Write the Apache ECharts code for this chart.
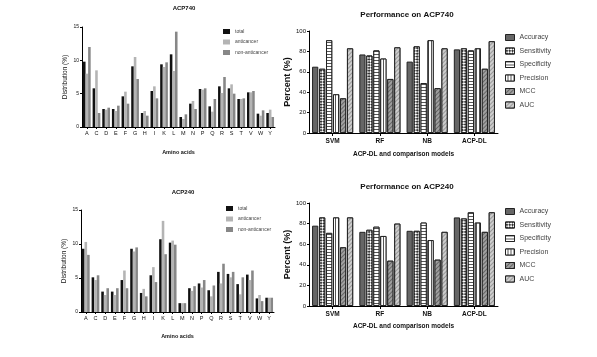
<!DOCTYPE html>
<html><head><meta charset="utf-8">
<script src="https://cdn.jsdelivr.net/npm/echarts@6/dist/echarts.min.js"></script>
<style>html,body{margin:0;padding:0;background:#fff}#c{width:597px;height:357px}</style>
</head><body><div id="c"></div>
<script>
const aminoAcids = ['A','C','D','E','F','G','H','I','K','L','M','N','P','Q','R','S','T','V','W','Y'];
const total740 = [9.8,5.8,2.7,2.7,4.6,9.1,2.1,5.4,9.4,10.9,1.5,3.5,5.7,3.1,6.1,5.8,4.2,5.2,2.0,2.1];
const anti740  = [8.0,8.5,2.6,2.4,5.3,10.5,2.4,6.1,9.0,8.4,1.2,3.9,5.6,2.3,5.1,6.4,4.2,5.2,1.7,2.6];
const non740   = [12.0,2.1,2.9,3.2,3.5,7.2,1.7,4.3,9.7,14.3,1.9,2.7,5.8,4.2,7.5,5.0,4.3,5.4,2.5,1.5];
const total240 = [9.3,5.1,3.0,3.0,4.7,9.3,2.8,5.4,10.7,10.2,1.3,3.5,4.2,3.2,5.9,5.6,4.1,5.5,2.0,2.1];
const anti240  = [10.3,4.7,2.5,2.5,6.1,8.9,3.4,6.6,13.4,10.5,1.3,3.1,3.6,2.3,4.2,5.1,2.6,4.7,2.5,2.1];
const non240   = [8.4,5.4,3.5,3.5,3.5,9.5,2.3,4.4,8.5,9.9,1.3,3.8,4.7,3.9,7.1,5.9,5.1,6.1,1.6,2.1];
const distTicks = [0,5,10,15];

const models = ['SVM','RF','NB','ACP-DL'];
const metrics = ['Accuracy','Sensitivity','Specificity','Precision','MCC','AUC'];
const accuracy740    = [65,77,70,82];
const sensitivity740 = [63,76,85,83];
const specificity740 = [91,81,49,81];
const precision740   = [38,73,91,83];
const mcc740         = [34,53,44,63];
const auc740         = [83,84,83,90];
const accuracy240    = [78,72,73,86];
const sensitivity240 = [86,74,73,85];
const specificity240 = [71,77,81,91];
const precision240   = [86,68,64,81];
const mcc240         = [57,44,45,72];
const auc240         = [86,80,72,91];
const pctTicks = [0,20,40,60,80,100];

const FONT = '"Liberation Sans", Arial, sans-serif';
const chart = echarts.init(document.getElementById('c'));

const distColors = ['#111111','#b4b4b4','#878787'];
const distNames = ['total','anticancer','non-anticancer'];

const metricStyles = [
  {color:'#666666'},
  {color:'#ffffff', decal:{symbol:'rect',symbolSize:1,dashArrayX:[[2,2],[0,2,2,0]],dashArrayY:[2,0],rotation:Math.PI/4,color:'#333',backgroundColor:'#fff'}},
  {color:'#ffffff', decal:{symbol:'rect',symbolSize:1,dashArrayX:[1,0],dashArrayY:[1,2],rotation:0,color:'#555',backgroundColor:'#fff'}},
  {color:'#ffffff', decal:{symbol:'rect',symbolSize:1,dashArrayX:[1,0],dashArrayY:[1,2],rotation:Math.PI/2,color:'#555',backgroundColor:'#fff'}},
  {color:'#8a8a8a', decal:{symbol:'rect',symbolSize:1,dashArrayX:[1,0],dashArrayY:[1,1.5],rotation:-Math.PI/4,color:'#666',backgroundColor:'#a0a0a0'}},
  {color:'#b8b8b8', decal:{symbol:'rect',symbolSize:1,dashArrayX:[1,0],dashArrayY:[1,1.5],rotation:-Math.PI/4,color:'#999',backgroundColor:'#cdcdcd'}}
];

const grids = [
  {left:82, top:27, width:193, height:100},
  {left:81, top:210, width:193, height:102},
  {left:309, top:31, width:189, height:102},
  {left:309, top:203, width:189, height:103}
];

const axisLineStyle = {show:true, lineStyle:{color:'#000', width:1}};

function distX(i, gap){
  return {type:'category', gridIndex:i, data:aminoAcids, name:'Amino acids', nameLocation:'middle', nameGap:gap,
    nameTextStyle:{fontFamily:FONT,fontSize:5.5,fontWeight:'bold',color:'#111'},
    axisLine:axisLineStyle, axisTick:{show:true, alignWithLabel:true, length:2, lineStyle:{color:'#000'}},
    axisLabel:{interval:0, fontFamily:FONT, fontSize:5.5, color:'#111', margin:3}};
}
function distY(i){
  return {type:'value', gridIndex:i, min:distTicks[0], max:distTicks[distTicks.length-1], interval:5,
    name:'Distribution (%)', nameLocation:'middle', nameGap:13,
    nameTextStyle:{fontFamily:FONT,fontSize:6.5,color:'#111'},
    axisLine:axisLineStyle, axisTick:{show:true,length:2,lineStyle:{color:'#000'}},
    splitLine:{show:false},
    axisLabel:{fontFamily:FONT,fontSize:5,color:'#111',margin:3}};
}
function pctX(i, gap){
  return {type:'category', gridIndex:i, data:models, name:'ACP-DL and comparison models', nameLocation:'middle', nameGap:gap,
    nameTextStyle:{fontFamily:FONT,fontSize:6.5,fontWeight:'bold',color:'#111'},
    axisLine:axisLineStyle, axisTick:{show:true, alignWithLabel:true, length:3, lineStyle:{color:'#000'}},
    axisLabel:{interval:0, fontFamily:FONT, fontSize:6.5, fontWeight:'bold', color:'#111', margin:5}};
}
function pctY(i){
  return {type:'value', gridIndex:i, min:pctTicks[0], max:pctTicks[pctTicks.length-1], interval:20,
    name:'Percent (%)', nameLocation:'middle', nameGap:12,
    nameTextStyle:{fontFamily:FONT,fontSize:9,fontWeight:'bold',color:'#111'},
    axisLine:axisLineStyle, axisTick:{show:true,length:2,lineStyle:{color:'#000'}},
    splitLine:{show:false},
    axisLabel:{fontFamily:FONT,fontSize:6,color:'#111',margin:3}};
}

const series = [];
[[total740,anti740,non740],[total240,anti240,non240]].forEach((set,gi)=>{
  set.forEach((vals,k)=>{
    series.push({type:'bar', name:distNames[k], xAxisIndex:gi, yAxisIndex:gi, data:vals,
      barGap:'0%', barCategoryGap:'20%', itemStyle:{color:distColors[k]}});
  });
});
[[accuracy740,sensitivity740,specificity740,precision740,mcc740,auc740],
 [accuracy240,sensitivity240,specificity240,precision240,mcc240,auc240]].forEach((set,j)=>{
  const gi = j+2;
  set.forEach((vals,k)=>{
    const st = metricStyles[k];
    const itemStyle = {color:st.color, borderColor:'#222', borderWidth:1};
    if(st.decal) itemStyle.decal = st.decal;
    series.push({type:'bar', name:metrics[k], xAxisIndex:gi, yAxisIndex:gi, data:vals,
      barGap:'12%', barCategoryGap:'13%', itemStyle});
  });
});

const titleStyle = (size)=>({fontFamily:FONT,fontSize:size,fontWeight:'bold',color:'#111'});

chart.setOption({
  animation:false,
  aria:{enabled:false},
  title:[
    {text:'ACP740', left:179, top:0, textAlign:'center', textStyle:titleStyle(6)},
    {text:'ACP240', left:178, top:184, textAlign:'center', textStyle:titleStyle(6)},
    {text:'Performance on ACP740', left:402, top:6, textAlign:'center', textStyle:titleStyle(8)},
    {text:'Performance on ACP240', left:402, top:178, textAlign:'center', textStyle:titleStyle(8)}
  ],
  legend:[
    {data:distNames, orient:'vertical', left:218, top:24, icon:'rect', itemWidth:7, itemHeight:5, itemGap:5.5,
      textStyle:{fontFamily:FONT,fontSize:5,color:'#444'}, selectedMode:false},
    {data:distNames, orient:'vertical', left:221, top:201, icon:'rect', itemWidth:7, itemHeight:5, itemGap:5.5,
      textStyle:{fontFamily:FONT,fontSize:5,color:'#444'}, selectedMode:false},
    {data:metrics, orient:'vertical', left:500, top:29, icon:'rect', itemWidth:9, itemHeight:6, itemGap:6.5,
      textStyle:{fontFamily:FONT,fontSize:7,color:'#444'}, selectedMode:false,
      itemStyle:{borderColor:'#222',borderWidth:1}},
    {data:metrics, orient:'vertical', left:500, top:203, icon:'rect', itemWidth:9, itemHeight:6, itemGap:6.5,
      textStyle:{fontFamily:FONT,fontSize:7,color:'#444'}, selectedMode:false,
      itemStyle:{borderColor:'#222',borderWidth:1}}
  ],
  grid:grids,
  xAxis:[distX(0,22),distX(1,21),pctX(2,18),pctX(3,17)],
  yAxis:[distY(0),distY(1),pctY(2),pctY(3)],
  series
});
</script></body></html>
